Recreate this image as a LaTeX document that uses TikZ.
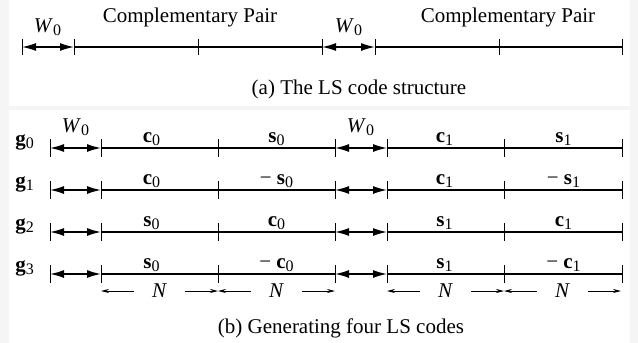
\documentclass[tikz,border=0pt]{standalone}
\usepackage{fontspec}
\setmainfont{Liberation Serif}
\usetikzlibrary{arrows.meta,calc}
\newcommand{\sbs}[1]{\textsubscript{\fontsize{8}{9}\selectfont #1}}
\newcommand{\Wz}{\textit{W}\sbs{0}}
\newcommand{\cvec}[1]{\textbf{c}\sbs{#1}}
\newcommand{\svec}[1]{\textbf{s}\sbs{#1}}
\newcommand{\gvec}[1]{\textbf{g}\sbs{#1}}

\begin{document}
\begin{tikzpicture}[x=0.5pt,y=-0.5pt,
  every node/.style={font=\fontsize{10.5}{12.6}\selectfont,inner sep=0pt},
  bar/.style={line width=0.75pt},
  tickmark/.style={line width=0.5pt},
  wspan/.style={{Latex[length=7pt,width=4pt]}-{Latex[length=7pt,width=4pt]},line width=0.7pt},
  nspan/.style={-{Stealth[length=4pt,width=2pt]},line width=0.4pt}]
% panels
\fill[black!4] (0,0) rectangle (638,343);
\fill[white] (9,0) rectangle (630,106);
\fill[white] (9,110) rectangle (630,343);
\useasboundingbox (0,0) rectangle (638,343);

% (a) code structure
\foreach \x [count=\i] in {22,74,198,322,375,499,622}
  \coordinate (a\i) at (\x,47);
\foreach \i in {1,...,7}
  \draw[tickmark] ($(a\i)+(0,-8)$) -- ($(a\i)+(0,8)$);
\draw[wspan] (a1) -- (a2);
\draw[bar] (a2) -- (a4);
\draw[wspan] (a4) -- (a5);
\draw[bar] (a5) -- (a7);
\node[anchor=base] (wa1) at (48,32) {\Wz};
\node[anchor=base] (wa2) at (349,32) {\Wz};
\node[anchor=base] (pair1) at (190,22) {Complementary Pair};
\node[anchor=base] (pair2) at (508,22) {Complementary Pair};
\node[anchor=base] (capa) at (359,94) {(a) The LS code structure};

% (b) four LS codes
\foreach \r/\y/\la/\lb/\lc/\ld in {
    0/148/{\cvec{0}}/{\svec{0}}/{\cvec{1}}/{\svec{1}},
    1/190/{\cvec{0}}/{− \svec{0}}/{\cvec{1}}/{− \svec{1}},
    2/232/{\svec{0}}/{\cvec{0}}/{\svec{1}}/{\cvec{1}},
    3/274/{\svec{0}}/{− \cvec{0}}/{\svec{1}}/{− \cvec{1}}}{
  \foreach \x [count=\i] in {50,101,218,335,387,504,622}
    \coordinate (b\r-\i) at (\x,\y);
  \foreach \i in {1,...,7}
    \draw[tickmark] ($(b\r-\i)+(0,-9)$) -- ($(b\r-\i)+(0,9)$);
  \draw[wspan] (b\r-1) -- (b\r-2);
  \draw[bar] (b\r-2) -- (b\r-4);
  \draw[wspan] (b\r-4) -- (b\r-5);
  \draw[bar] (b\r-5) -- (b\r-7);
  \node[anchor=base] (g\r) at (25,\y-3) {\gvec{\r}};
  \node[anchor=base] (l\r-1) at (152,\y-6) {\la};
  \node[anchor=base] (l\r-2) at (277,\y-6) {\lb};
  \node[anchor=base] (l\r-3) at (445,\y-6) {\lc};
  \node[anchor=base] (l\r-4) at (564,\y-6) {\ld};
}
\node[anchor=base] (wb1) at (76,132) {\Wz};
\node[anchor=base] (wb2) at (361,132) {\Wz};

% lengths N
\foreach \x [count=\i] in {101,218,335,387,504,621}
  \coordinate (m\i) at (\x,291);
\foreach \j/\a/\b in {1/1/2,2/2/3,3/4/5,4/5/6}{
  \node[minimum width=25.5pt] (n\j) at ($(m\a)!0.5!(m\b)$) {\textit{N}};
  \draw[nspan] (n\j.west) -- (m\a);
  \draw[nspan] (n\j.east) -- (m\b);
}
\node[anchor=base] (capb) at (341,333) {(b) Generating four LS codes};
\end{tikzpicture}
\end{document}
